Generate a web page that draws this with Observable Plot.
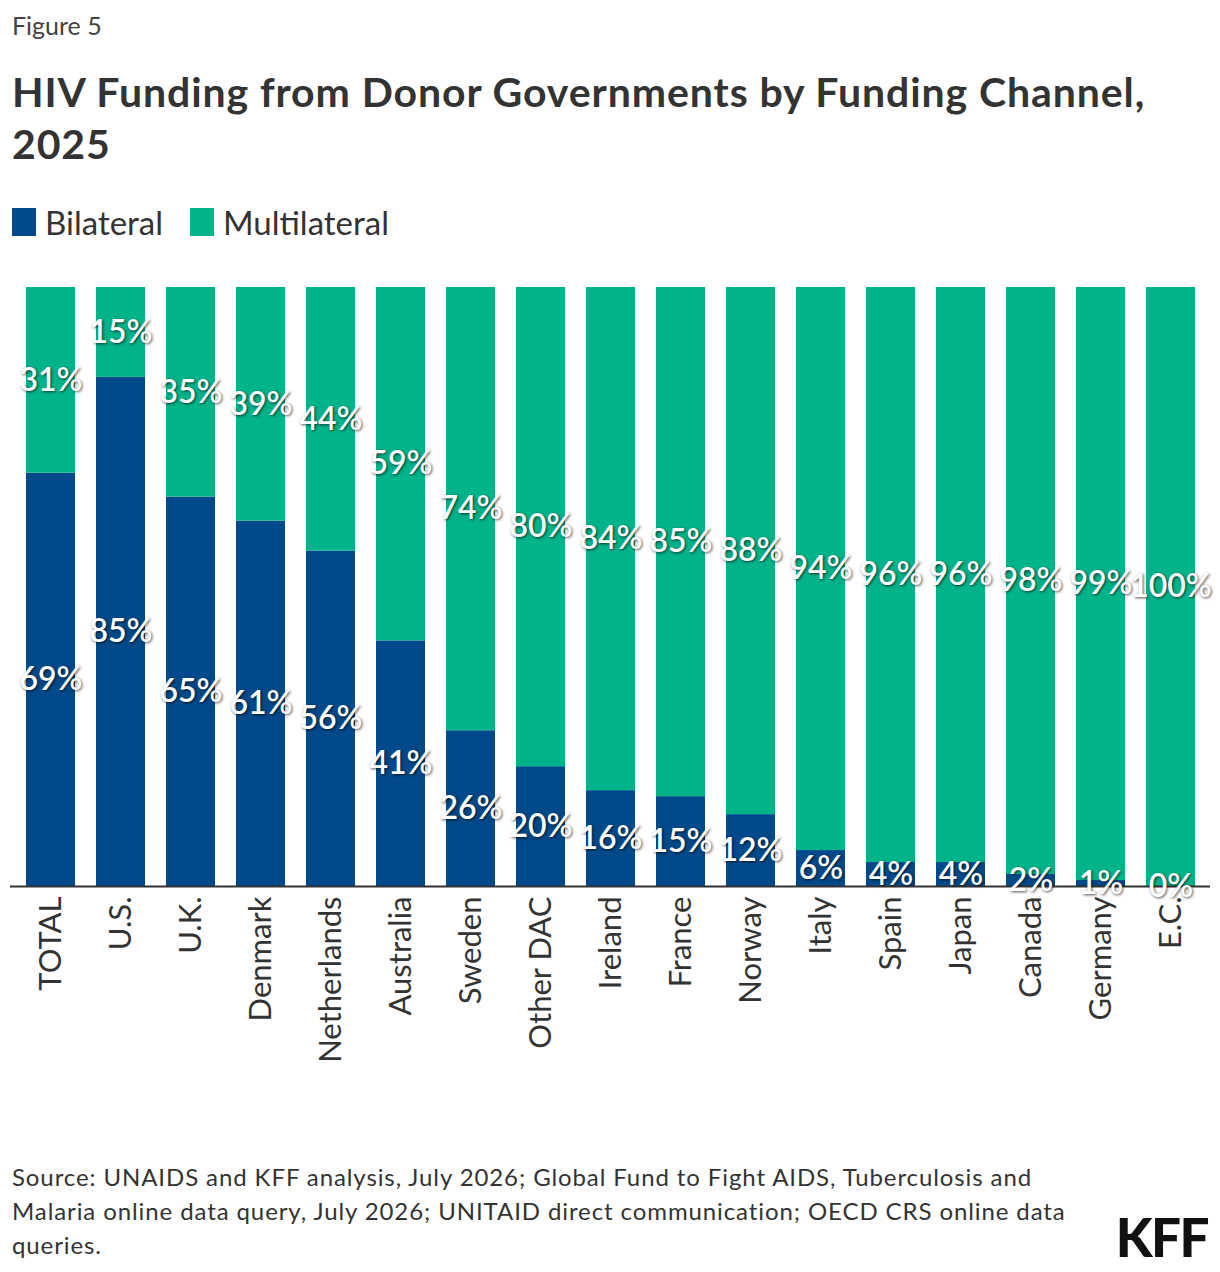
<!DOCTYPE html>
<html>
<head>
<meta charset="utf-8">
<script src="https://cdn.jsdelivr.net/npm/d3@7"></script>
<script src="https://cdn.jsdelivr.net/npm/@observablehq/plot@0.6"></script>
<style>
  html, body { margin: 0; padding: 0; background: #fff; }
  body { width: 1220px; height: 1272px; position: relative; font-family: Lato, "Open Sans", sans-serif; color: #333; }
  .fig { position: absolute; left: 12px; top: 10px; font-size: 25px; color: #444; }
  h1 { position: absolute; left: 12px; top: 66px; margin: 0; width: 1200px; font-size: 41px; line-height: 52px; font-weight: 700; color: #333; white-space: nowrap; letter-spacing: 0.9px; }
  .legend { position: absolute; left: 12px; top: 202px; display: flex; align-items: center; font-size: 33px; color: #333; }
  .legend span.sw { display: inline-block; width: 24px; height: 28px; margin-right: 9px; }
  .legend span.item { display: flex; align-items: center; margin-right: 27px; }
  #chart { position: absolute; left: 0; top: 270px; }
  #chart g[aria-label="text"] text { text-shadow: 1px 1px 3px rgba(0,0,0,0.7); }
  .source { position: absolute; left: 12px; top: 1160px; font-size: 24px; line-height: 34px; color: #333; white-space: nowrap; letter-spacing: 0.9px; }
  .logo { position: absolute; right: 12px; top: 1205px; font-size: 53px; font-weight: 900; letter-spacing: -1.5px; color: #111; }
</style>
</head>
<body>
<div class="fig">Figure 5</div>
<h1>HIV Funding from Donor Governments by Funding Channel,<br>2025</h1>
<div class="legend" id="legend"></div>
<div id="chart"></div>
<div class="source">Source: UNAIDS and KFF analysis, July 2026; Global Fund to Fight AIDS, Tuberculosis and<br>Malaria online data query, July 2026; UNITAID direct communication; OECD CRS online data<br>queries.</div>
<div class="logo">KFF</div>
<script>
// Donors, in display order
const donors = ["TOTAL", "U.S.", "U.K.", "Denmark", "Netherlands", "Australia", "Sweden", "Other DAC",
  "Ireland", "France", "Norway", "Italy", "Spain", "Japan", "Canada", "Germany", "E.C."];
// Share of HIV funding by channel (%)
const bilateral    = [69, 85, 65, 61, 56, 41, 26, 20, 16, 15, 12, 6, 4, 4, 2, 1, 0];
const multilateral = [31, 15, 35, 39, 44, 59, 74, 80, 84, 85, 88, 94, 96, 96, 98, 99, 100];
const channels = ["Bilateral", "Multilateral"];
const channelColors = ["#00498a", "#00b48a"];

const rows = donors.flatMap((d, i) => [
  {donor: d, channel: "Bilateral", value: bilateral[i]},
  {donor: d, channel: "Multilateral", value: multilateral[i]}
]);

// Legend
const legend = document.getElementById("legend");
channels.forEach((c, i) => {
  const item = document.createElement("span");
  item.className = "item";
  item.innerHTML = `<span class="sw" style="background:${channelColors[i]}"></span>${c}`;
  legend.appendChild(item);
});

const chart = Plot.plot({
  width: 1220,
  height: 830,
  marginTop: 17,
  marginBottom: 214,
  marginLeft: 10,
  marginRight: 10,
  style: {fontFamily: "Lato, 'Open Sans', sans-serif", color: "#333", background: "#fff"},
  x: {domain: donors, paddingInner: 0.3, paddingOuter: 0.15, label: null},
  y: {domain: [0, 100], axis: null},
  color: {domain: channels, range: channelColors},
  marks: [
    Plot.barY(rows, {x: "donor", y: "value", fill: "channel"}),
    Plot.ruleY([0], {stroke: "#333", strokeWidth: 2}),
    Plot.text(rows, Plot.stackY({
      x: "donor", y: "value", z: "channel",
      text: d => `${d.value}%`,
      fill: "white", fontSize: 32, fontWeight: 600
    })),
    Plot.axisX({tickRotate: -90, tickSize: 0, tickPadding: 10, fontSize: 31, fill: "#333", label: null})
  ]
});
document.getElementById("chart").appendChild(chart);
</script>
</body>
</html>
